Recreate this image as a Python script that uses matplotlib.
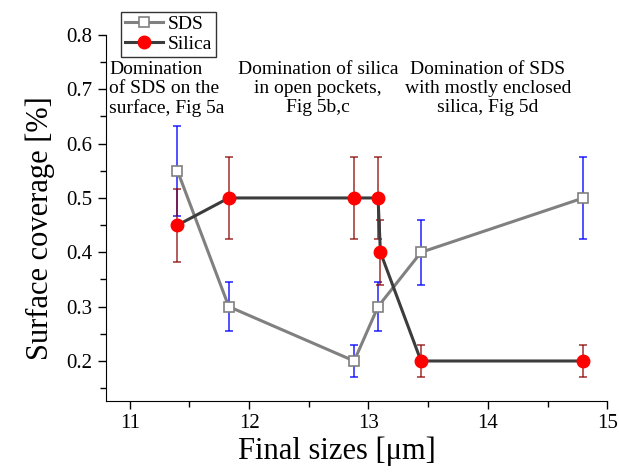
import numpy as np
import matplotlib.pyplot as plt
from matplotlib.ticker import MultipleLocator

plt.rcParams['font.family'] = 'serif'
plt.rcParams['font.serif'] = ['Liberation Serif', 'DejaVu Serif']

# data
sds_x = [11.40, 11.83, 12.88, 13.08, 13.44, 14.80]
sds_y = [0.55, 0.30, 0.20, 0.30, 0.40, 0.50]
sds_err = [0.083, 0.045, 0.03, 0.045, 0.06, 0.075]

silica_x = [11.40, 11.83, 12.88, 13.08, 13.10, 13.44, 14.80]
silica_y = [0.45, 0.50, 0.50, 0.50, 0.40, 0.20, 0.20]
silica_err = [0.067, 0.075, 0.075, 0.075, 0.06, 0.03, 0.03]

fig = plt.figure(figsize=(6.19, 4.72), dpi=100)
ax = fig.add_axes([0.171, 0.150, 0.810, 0.776])

ax.errorbar(sds_x, sds_y, yerr=sds_err, fmt='none', ecolor='blue',
            elinewidth=1.2, capsize=3, capthick=1.2, alpha=0.8, zorder=2)
ax.plot(sds_x, sds_y, color='gray', lw=2.2, marker='s', ms=7,
        mfc='white', mec='gray', mew=1.2, label='SDS', zorder=3)

ax.errorbar(silica_x, silica_y, yerr=silica_err, fmt='none', ecolor='darkred',
            elinewidth=1.2, capsize=3, capthick=1.2, alpha=0.75, zorder=4)
ax.plot(silica_x, silica_y, color='#3c3c3c', lw=2.2, marker='o', ms=9,
        mfc='red', mec='red', label='Silica', zorder=5)

ax.set_xlim(10.8, 15)
ax.set_ylim(0.126, 0.8)
ax.xaxis.set_major_locator(MultipleLocator(1))
ax.xaxis.set_minor_locator(MultipleLocator(0.5))
ax.yaxis.set_major_locator(MultipleLocator(0.1))
ax.yaxis.set_minor_locator(MultipleLocator(0.05))
ax.tick_params(which='major', length=6, width=1, labelsize=15, direction='out')
ax.tick_params(which='minor', length=4, width=1, direction='out')
ax.spines['top'].set_visible(False)
ax.spines['right'].set_visible(False)

ax.set_xlabel('Final sizes [μm]', fontsize=22, labelpad=2, x=0.46)
ax.set_ylabel('Surface coverage [%]', fontsize=22, labelpad=8, y=0.473)

ax.text(0.007, 0.928, 'Domination\nof SDS on the\nsurface, Fig 5a', transform=ax.transAxes,
        fontsize=14, ha='left', va='top', linespacing=1.15)
ax.text(0.423, 0.928, 'Domination of silica\nin open pockets,\nFig 5b,c', transform=ax.transAxes,
        fontsize=14, ha='center', va='top', linespacing=1.15)
ax.text(0.762, 0.928, 'Domination of SDS\nwith mostly enclosed\nsilica, Fig 5d', transform=ax.transAxes,
        fontsize=14, ha='center', va='top', linespacing=1.15)

fig.legend(loc='upper left', bbox_to_anchor=(0.195, 0.975), prop={'size': 14},
           frameon=True, fancybox=False, edgecolor='black', borderpad=0.2,
           handlelength=2.0, handletextpad=0.2, labelspacing=0.1, borderaxespad=0)

fig.savefig('out.png', dpi=100)
